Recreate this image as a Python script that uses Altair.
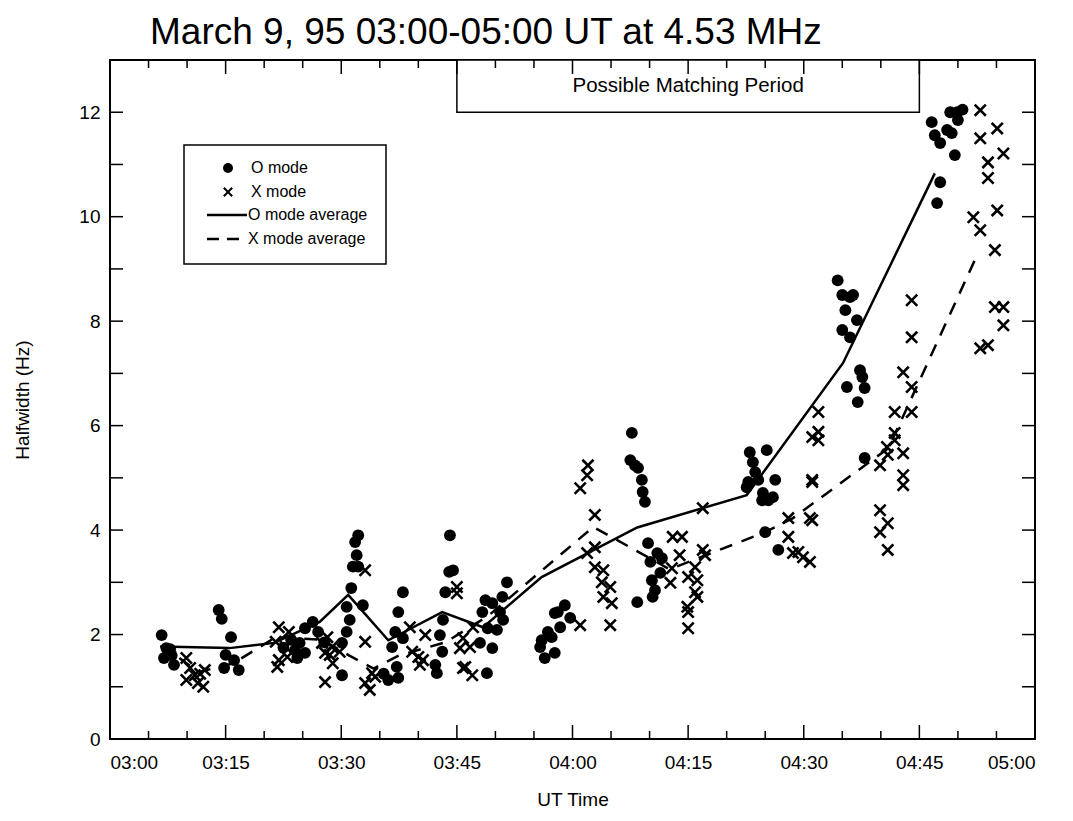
import altair as alt
import pandas as pd

# ---- data (minutes after 03:00 UT, halfwidth in Hz) ----
o_time = [6.7, 7.3, 7.0, 8.3, 7.8, 8.0,
          14.1, 14.5, 15.7, 15.0, 16.1, 14.8, 16.7,
          26.3, 25.3, 24.6, 24.0, 25.3, 24.3, 22.5, 23.5, 27.0, 27.8,
          32.2, 31.8, 32.0, 31.5, 32.2, 31.3, 32.8, 30.7, 31.1, 30.7, 30.1, 30.1,
          38.0, 37.4, 37.0, 36.6, 38.0, 37.2, 37.4, 36.1, 35.5,
          44.1, 44.0, 44.5, 43.5, 43.2, 42.8, 43.1, 42.2, 42.4,
          51.5, 48.7, 49.6, 50.9, 48.3, 50.6, 51.0, 49.0, 50.2, 48.0, 49.6, 48.9,
          59.0, 58.1, 57.7, 59.7, 58.4, 56.8, 57.3, 56.0, 55.8, 57.7, 56.4,
          67.7, 67.5, 68.1, 68.5, 69.0, 69.1, 69.4, 69.8, 71.0, 71.6, 70.1, 71.4, 70.3, 70.7, 70.4, 68.4,
          83.0, 85.2, 83.4, 83.7, 82.8, 84.1, 86.3, 82.6, 84.7, 85.4, 84.6, 86.0, 85.0, 86.7,
          94.4, 95.0, 96.4, 96.0, 95.4, 96.9, 95.0, 96.0, 97.3, 97.6, 97.9, 95.6, 97.0, 97.9,
          106.6, 109.0, 109.9, 110.0, 107.0, 108.6, 109.2, 107.7, 109.6, 107.7, 107.3, 110.6]
o_val = [1.99, 1.74, 1.55, 1.42, 1.72, 1.60,
         2.47, 2.30, 1.95, 1.61, 1.51, 1.36, 1.32,
         2.24, 2.12, 1.84, 1.70, 1.65, 1.55, 1.75, 1.90, 2.05, 1.85,
         3.90, 3.77, 3.52, 3.30, 3.30, 2.89, 2.56, 2.53, 2.28, 2.05, 1.84, 1.22,
         2.81, 2.43, 2.05, 1.76, 1.93, 1.38, 1.17, 1.13, 1.25,
         3.90, 3.20, 3.23, 2.81, 2.28, 1.99, 1.67, 1.42, 1.26,
         3.00, 2.66, 2.60, 2.72, 2.43, 2.43, 2.28, 2.12, 2.09, 1.84, 1.74, 1.26,
         2.56, 2.43, 2.41, 2.32, 2.14, 2.05, 1.95, 1.89, 1.76, 1.65, 1.55,
         5.86, 5.34, 5.24, 5.19, 4.96, 4.73, 4.54, 3.75, 3.56, 3.46, 3.39, 3.18, 3.04, 2.85, 2.72, 2.62,
         5.49, 5.53, 5.30, 5.11, 4.92, 4.96, 4.96, 4.82, 4.71, 4.57, 4.57, 4.63, 3.96, 3.62,
         8.78, 8.50, 8.50, 8.46, 8.21, 8.02, 7.83, 7.69, 7.06, 6.93, 6.72, 6.74, 6.45, 5.38,
         11.81, 12.00, 12.00, 11.85, 11.56, 11.66, 11.60, 11.41, 11.18, 10.66, 10.26, 12.05]

x_time = [9.9, 10.4, 9.9, 11.0, 11.4, 12.1, 12.3, 11.7,
          21.9, 23.2, 21.5, 22.8, 21.9, 23.0, 21.7,
          33.1, 28.2, 27.5, 28.8, 27.9, 28.5, 29.8, 28.9, 27.9,
          33.1, 34.0, 34.4, 33.1, 33.7,
          38.9, 40.9, 39.2, 40.0, 40.6, 40.2,
          45.0, 45.0, 45.8, 45.4, 45.8,
          47.1, 46.7, 46.1, 47.0,
          62.0, 61.9, 61.0, 62.9, 62.9, 61.9, 62.9, 64.0, 63.8, 64.9, 64.0, 65.1, 61.0, 64.9,
          73.0, 74.2, 73.9, 72.9, 72.7, 75.0, 75.9, 76.2, 75.9, 76.2, 74.9, 75.0, 75.0, 76.9, 77.2, 76.9,
          88.0, 90.8, 88.0, 89.3, 88.6, 89.9, 90.8, 91.1, 91.1,
          104.0, 104.0, 102.9, 104.0, 101.8, 104.0, 101.8, 101.8, 100.8, 100.9, 102.9, 99.9,
          102.9, 102.9, 99.9, 100.9, 99.9, 100.9,
          91.9, 91.9, 91.9, 91.1, 91.1,
          112.9, 115.1, 112.9, 113.9, 115.9, 113.9, 112.0, 112.9, 115.1, 114.8, 114.8, 115.9, 115.9,
          112.9, 113.9]
x_val = [1.55, 1.36, 1.13, 1.22, 1.07, 1.00, 1.32, 1.25,
         2.14, 2.05, 1.86, 1.76, 1.51, 1.57, 1.38,
         3.23, 1.95, 1.84, 1.76, 1.65, 1.61, 1.67, 1.45, 1.09,
         1.86, 1.26, 1.19, 1.07, 0.94,
         2.14, 1.99, 1.67, 1.57, 1.51, 1.42,
         2.91, 2.79, 1.93, 1.74, 1.36,
         2.14, 1.76, 1.38, 1.22,
         5.24, 5.05, 4.80, 4.29, 3.67, 3.56, 3.29, 3.23, 3.00, 2.91, 2.72, 2.60, 2.18, 2.18,
         3.87, 3.87, 3.52, 3.27, 2.99, 3.10, 3.29, 3.04, 2.81, 2.72, 2.53, 2.43, 2.12, 3.62, 3.52, 4.42,
         4.23, 4.23, 3.87, 3.58, 3.56, 3.48, 3.39, 4.92, 5.78,
         8.40, 7.69, 7.02, 6.74, 6.26, 6.26, 5.86, 5.72, 5.59, 5.44, 5.47, 5.24,
         5.05, 4.86, 4.38, 4.13, 3.96, 3.62,
         6.26, 5.88, 5.72, 4.96, 4.19,
         12.04, 11.69, 11.50, 11.04, 11.21, 10.74, 9.99, 9.74, 10.12, 9.36, 8.27, 8.27, 7.92,
         7.48, 7.54]

oavg_time = [6.5, 15.5, 21.3, 27.2, 30.9, 36.1, 43.1, 48.4, 56.0, 68.4, 82.6, 95.1, 107.0]
oavg_val = [1.77, 1.74, 1.84, 2.24, 2.76, 1.89, 2.43, 2.14, 3.10, 4.05, 4.67, 7.20, 10.83]

xavg_time = [9.0, 11.5, 16.0, 21.5, 27.5, 31.0, 34.2, 37.5, 43.5, 49.0, 62.7, 72.6, 85.0, 88.6, 101.0, 112.6]
xavg_val = [1.55, 1.28, 1.45, 1.95, 1.90, 1.60, 1.35, 1.60, 1.85, 2.35, 4.06, 3.25, 3.96, 4.23, 5.57, 9.30]

x_major = [0, 15, 30, 45, 60, 75, 90, 105, 120]
x_labels = ["03:00", "03:15", "03:30", "03:45", "04:00", "04:15", "04:30", "04:45", "05:00"]
x_minor = [5, 10, 20, 25, 35, 40, 50, 55, 65, 70, 80, 85, 95, 100, 110, 115]
y_major = [0, 2, 4, 6, 8, 10, 12]
y_ticks = [1, 2, 3, 4, 5, 6, 7, 8, 9, 10, 11, 12]

period = {"t0": 45, "t1": 105, "v0": 12, "v1": 13, "label": "Possible Matching Period"}
title_text = "March 9, 95 03:00-05:00 UT at 4.53 MHz"

W, H = 925, 679
FONT = "Liberation Sans"

xs = alt.Scale(domain=[0, 120], nice=False, zero=False)
ys = alt.Scale(domain=[0, 13], nice=False)

label_arr = "[" + ",".join("'%s'" % s for s in x_labels) + "]"
x_axis = alt.Axis(values=x_major, labelExpr=label_arr + "[round(datum.value/15)]",
                  ticks=False, domain=False, grid=False, labelPadding=14,
                  labelFontSize=19, labelFont=FONT, labelColor="black",
                  title="UT Time", titleFontSize=19, titleFont=FONT,
                  titleFontWeight="normal", titleColor="black", titlePadding=18)
y_axis = alt.Axis(values=y_major, ticks=False, domain=False, grid=False,
                  labelPadding=10, labelFontSize=19, labelFont=FONT, labelColor="black",
                  title="Halfwidth (Hz)", titleFontSize=19, titleFont=FONT,
                  titleFontWeight="normal", titleColor="black", titlePadding=46)

o_df = pd.DataFrame({"t": o_time, "v": o_val})
x_df = pd.DataFrame({"t": x_time, "v": x_val})
oa_df = pd.DataFrame({"t": oavg_time, "v": oavg_val})
xa_df = pd.DataFrame({"t": xavg_time, "v": xavg_val})

base_x = alt.X("t:Q", scale=xs, axis=x_axis)
base_y = alt.Y("v:Q", scale=ys, axis=y_axis)

o_pts = alt.Chart(o_df).mark_point(shape="circle", filled=True, size=140, color="black",
                                   opacity=1).encode(x=base_x, y=base_y)
XSHAPE = "M-1,-1L1,1M-1,1L1,-1"
x_pts = alt.Chart(x_df).mark_point(shape=XSHAPE, filled=False, size=125, color="black",
                                   strokeWidth=2.6, opacity=1).encode(
    x=alt.X("t:Q", scale=xs), y=alt.Y("v:Q", scale=ys))
o_line = alt.Chart(oa_df).mark_line(color="black", strokeWidth=2.5).encode(
    x=alt.X("t:Q", scale=xs), y=alt.Y("v:Q", scale=ys))
x_line = alt.Chart(xa_df).mark_line(color="black", strokeWidth=2.5, strokeDash=[13, 10]).encode(
    x=alt.X("t:Q", scale=xs), y=alt.Y("v:Q", scale=ys))

pdf = pd.DataFrame([period])
box = alt.Chart(pdf).mark_rect(fill="white", stroke="black", strokeWidth=1.5).encode(
    x=alt.X("t0:Q", scale=xs), x2="t1:Q", y=alt.Y("v0:Q", scale=ys), y2="v1:Q")
box_text = alt.Chart(pdf).transform_calculate(tm="(datum.t0+datum.t1)/2",
                                              vm="(datum.v0+datum.v1)/2").mark_text(
    font=FONT, fontSize=20.5, color="black", baseline="middle", align="center").encode(
    x=alt.X("tm:Q", scale=xs), y=alt.Y("vm:Q", scale=ys), text="label:N")

# inward ticks
xmaj_df = pd.DataFrame({"t": x_major})
xmin_df = pd.DataFrame({"t": x_minor})
yt_df = pd.DataFrame({"v": y_ticks})
tk = dict(color="black", strokeWidth=1.5)
ticks = [
    alt.Chart(xmaj_df).mark_rule(**tk).encode(x=alt.X("t:Q", scale=xs), y=alt.value(H), y2=alt.value(H - 14)),
    alt.Chart(xmaj_df).mark_rule(**tk).encode(x=alt.X("t:Q", scale=xs), y=alt.value(0), y2=alt.value(14)),
    alt.Chart(xmin_df).mark_rule(**tk).encode(x=alt.X("t:Q", scale=xs), y=alt.value(H), y2=alt.value(H - 8)),
    alt.Chart(xmin_df).mark_rule(**tk).encode(x=alt.X("t:Q", scale=xs), y=alt.value(0), y2=alt.value(8)),
    alt.Chart(yt_df).mark_rule(**tk).encode(y=alt.Y("v:Q", scale=ys), x=alt.value(0), x2=alt.value(13)),
    alt.Chart(yt_df).mark_rule(**tk).encode(y=alt.Y("v:Q", scale=ys), x=alt.value(W - 13), x2=alt.value(W)),
]

# legend (drawn in plot pixel space)
one = pd.DataFrame({"a": [0]})
leg_items = pd.DataFrame({"lab": ["O mode", "X mode", "O mode average", "X mode average"],
                          "yy": [108, 132, 155, 179], "xx": [141, 141, 138, 138]})
legend = [
    alt.Chart(one).mark_rect(fill="white", stroke="black", strokeWidth=1.5).encode(
        x=alt.value(74), x2=alt.value(276), y=alt.value(85), y2=alt.value(204)),
    alt.Chart(one).mark_point(shape="circle", filled=True, size=100, color="black", opacity=1).encode(
        x=alt.value(118), y=alt.value(108)),
    alt.Chart(one).mark_point(shape=XSHAPE, filled=False, size=70, color="black", strokeWidth=2,
                              opacity=1).encode(x=alt.value(118), y=alt.value(132)),
    alt.Chart(one).mark_rule(color="black", strokeWidth=2.5).encode(
        x=alt.value(97), x2=alt.value(137), y=alt.value(155)),
    alt.Chart(one).mark_rule(color="black", strokeWidth=2.5, strokeDash=[12, 8]).encode(
        x=alt.value(97), x2=alt.value(137), y=alt.value(179)),
    alt.Chart(leg_items).mark_text(font=FONT, fontSize=16, color="black", align="left",
                                   baseline="middle").encode(
        x=alt.X("xx:Q", scale=None), y=alt.Y("yy:Q", scale=None), text="lab:N"),
]

title = alt.Chart(pd.DataFrame({"s": [title_text]})).mark_text(
    font=FONT, fontSize=37, color="black", align="left", baseline="alphabetic").encode(
    x=alt.value(40), y=alt.value(-16), text="s:N")

chart = alt.layer(box, box_text, *ticks, o_line, x_line, x_pts, o_pts, *legend, title).properties(
    width=W, height=H,
    autosize=alt.AutoSizeParams(type="none"),
    padding={"left": 110, "top": 60, "right": 38, "bottom": 82},
    background="white",
).configure_view(stroke="black", strokeWidth=2)

chart.save("out.html", embed_options={"renderer": "svg", "actions": False})
